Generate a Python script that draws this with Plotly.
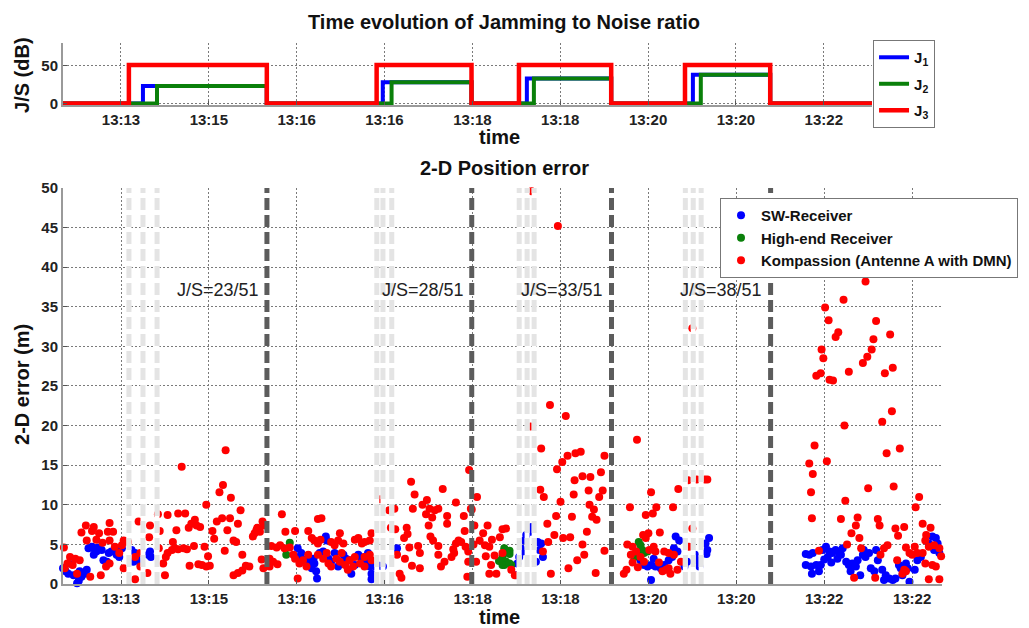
import plotly.graph_objects as go

# ---------------- data ----------------
tick_labels = ["13:13", "13:15", "13:16", "13:16", "13:18", "13:18", "13:20", "13:20", "13:22", "13:22"]
tick_pos = [0, 1, 2, 3, 4, 5, 6, 7, 8, 9]

t_start = -0.66
t_end_top = 8.55
t_end_bottom = 9.34

j3_on = [0.09, 2.91, 4.53, 6.42]
j1_on = [0.25, 2.98, 4.62, 6.51]
j2_on = [0.41, 3.08, 4.70, 6.60]
jam_off = [1.66, 3.99, 5.58, 7.39]
js_levels = [23, 28, 33, 38]
j3_level = 51

sw_t = [-0.66, -0.63, -0.60, -0.54, -0.50, -0.48, -0.45, -0.41, -0.39, -0.47, -0.56, -0.37, -0.33, -0.30, -0.26,
        -0.22, -0.31, -0.28, -0.20, -0.16, -0.14, -0.11, -0.07, -0.05, -0.02, 0.01, 0.12, 0.16, 0.18, 0.14, 0.22,
        0.31, 0.33, 0.34,
        2.01, 2.05, 2.03, 2.08, 2.33, 2.34, 2.15, 2.19, 2.20, 2.17, 2.13, 2.22, 2.23, 2.26, 2.30, 2.32, 2.36, 2.39,
        2.43, 2.47, 2.51, 2.53, 2.56, 2.60, 2.62, 2.66, 2.70, 2.74, 2.77, 2.79, 2.81, 2.83, 2.85, 2.85, 2.89, 2.94,
        2.98, 3.14, 3.13,
        4.55, 4.57, 4.53, 4.67, 4.66, 4.61, 4.59, 4.74, 4.78, 4.76, 4.80, 4.72, 4.51, 4.50,
        6.31, 6.35, 6.29, 6.33, 6.27, 6.23, 6.18, 6.06, 6.03, 5.99, 6.08, 6.14, 5.91, 5.95, 6.03, 6.44, 6.41, 6.53,
        6.55, 6.58, 6.65, 6.69, 6.67, 6.63, 6.66,
        7.79, 7.83, 7.87, 7.79, 7.85, 7.91, 7.96, 7.86, 7.94, 7.98, 8.02, 8.06, 8.09, 8.04, 8.00, 8.08, 8.13, 8.17,
        8.21, 8.15, 8.19, 8.25, 8.28, 8.32, 8.30, 8.36, 8.38, 8.44, 8.47, 8.51, 8.45, 8.41, 8.53, 8.57, 8.59, 8.61,
        8.66, 8.70, 8.74, 8.78, 8.81, 8.68, 8.85, 8.87, 8.89, 8.93, 8.95, 8.97, 9.03, 9.06, 9.10, 9.19, 9.23, 9.27,
        9.29, 9.25, 9.31]
sw_y = [2.0, 1.6, 1.3, 1.1, 0.1, 0.4, 0.9, 1.3, 1.8, 1.6, 2.5, 4.5, 4.7, 4.4, 4.6,
        4.3, 3.7, 4.1, 3.0, 2.8, 3.9, 4.1, 4.3, 3.7, 3.4, 4.5, 4.3, 3.9, 3.2, 2.8, 2.6,
        3.7, 4.1, 3.4,
        4.5, 3.9, 3.4, 3.1, 6.0, 5.5, 3.0, 3.2, 2.6, 2.0, 2.4, 1.6, 0.7, 3.9, 4.1, 3.7, 3.2, 2.8,
        3.9, 2.2, 2.6, 3.7, 3.2, 3.0, 1.3, 2.4, 3.7, 3.2, 3.4, 2.8, 3.9, 2.2, 1.3, 0.6, 2.2, 2.3,
        2.2, 4.5, 3.9,
        4.5, 4.1, 3.4, 7.2, 6.6, 6.2, 5.5, 5.3, 5.1, 4.3, 3.4, 2.8, 2.6, 1.1,
        6.0, 5.5, 4.5, 4.1, 3.4, 3.0, 2.4, 3.2, 2.4, 2.2, 2.2, 2.0, 3.0, 2.4, 0.5, 2.8, 2.2, 3.7,
        3.0, 2.2, 5.1, 5.8, 4.3, 3.9, 3.8,
        3.8, 3.7, 3.9, 2.4, 2.2, 2.4, 2.4, 1.3, 1.6, 4.3, 4.7, 4.1, 3.9, 3.4, 3.1, 2.7, 4.3, 3.9,
        4.5, 3.2, 3.7, 2.8, 2.4, 2.6, 1.6, 2.2, 3.0, 3.7, 3.4, 3.9, 4.3, 1.1, 2.0, 1.6, 4.3, 3.0,
        1.8, 1.1, 0.7, 0.5, 0.7, 0.5, 2.4, 2.0, 1.1, 2.6, 2.0, 0.3, 1.8, 3.0, 3.4, 5.1, 6.0, 5.8,
        5.1, 4.3, 3.9]

he_t = [1.88, 1.92,
        4.34, 4.38, 4.40, 4.44, 4.42, 4.36, 4.36, 4.42, 4.34, 4.42, 4.30,
        5.89, 5.91, 5.93, 5.87, 5.84, 5.95, 5.99]
he_y = [3.7, 5.2,
        3.4, 2.8, 4.0, 2.4, 4.2, 2.4, 4.5, 3.8, 2.4, 2.6, 2.9,
        5.3, 4.9, 4.3, 3.7, 3.4, 3.9, 4.1]

km_t = [1.19, 0.69, 1.16, 1.12, 1.25, 0.97, 1.36, 0.42, 0.53, 0.65, 0.73, 0.20, 0.33, 0.84, 0.80, 0.86, 0.77,
        0.90, 0.44, 0.63, 1.09, 1.15, 1.24, 1.33, 1.04, 1.21, 1.06, 1.18, 1.28, 1.31, 1.38, 1.50, 1.52, 1.54,
        1.55, 1.58, 1.61, 1.62, 0.83, 0.95, 0.59, 0.58, 0.61, 0.65, 0.71, 0.75, 0.53, 0.51, 0.43, 0.48, 0.78,
        0.88, 0.92, 0.97, 1.01, 0.99, 1.28, 1.33, 1.38, 1.42, 1.46, 1.60, 1.62, 0.50, 0.16, 0.30, 0.22, 0.32,
        0.08, 0.03, 0.22, -0.65, -0.40, -0.31, -0.33, -0.45, -0.25, -0.13, -0.15, -0.09, -0.39, -0.28, -0.21,
        -0.13, 0.01, -0.07, -0.02, -0.58, -0.52, -0.47, -0.61, -0.64, -0.55, -0.50, -0.35, -0.23, -0.17, -0.13,
        0.03, 0.16,
        3.96, 3.30, 3.66, 3.34, 3.48, 3.81, 3.43, 3.32, 3.51, 3.57, 3.61, 3.47, 3.54, 3.71, 3.90, 3.99, 3.05,
        3.11, 2.95, 3.71, 3.50, 3.25, 3.07, 3.12, 3.91, 3.26, 3.22, 3.52, 3.55, 3.61, 3.84, 3.87, 3.81, 3.78,
        3.38, 3.28, 3.40, 3.61, 3.76, 3.79, 3.92, 3.95, 3.68, 3.23, 3.17, 3.19, 3.31, 3.40, 3.64, 3.94, 3.95,
        3.14, 1.83, 2.24, 2.28, 1.98, 1.87, 2.13, 2.49, 1.71, 1.77, 1.81, 1.86, 1.92, 2.17, 2.20, 2.24, 2.27,
        2.39, 2.43, 2.47, 2.53, 2.66, 2.70, 2.74, 2.77, 2.83, 2.85, 1.69, 1.73, 1.69, 1.78, 1.96, 1.98, 2.03,
        2.07, 2.11, 2.13, 2.24, 2.30, 2.34, 2.36, 2.39, 2.45, 2.49, 2.51, 2.55, 2.58, 2.60, 2.64, 2.66, 2.72,
        2.77, 2.77, 2.83, 2.85, 2.01,
        4.67, 4.97, 4.66, 4.88, 5.06, 4.78, 5.02, 5.08, 5.17, 5.23, 5.50, 4.96, 5.16, 5.25, 5.34, 5.46, 4.77,
        4.81, 5.15, 5.32, 5.48, 5.44, 5.00, 5.33, 5.38, 5.36, 5.41, 4.95, 5.13, 4.85, 5.30, 4.93, 5.03, 5.11,
        5.25, 5.50, 5.27, 5.19, 5.09, 4.89, 5.40, 4.05, 3.98, 4.02, 4.17, 4.12, 4.34, 4.38, 4.01, 4.08, 4.22,
        4.31, 4.14, 4.19, 4.04, 4.15, 4.25, 4.34, 4.21, 4.19, 4.27, 4.44, 4.48, 4.86, 4.80,
        6.50, 5.87, 6.45, 6.55, 6.64, 6.67, 6.03, 6.34, 5.79, 6.09, 6.28, 5.97, 6.05, 6.50, 6.13, 5.94, 6.00,
        5.97, 5.76, 5.82, 5.86, 5.80, 6.01, 6.06, 6.08, 5.82, 5.88, 5.75, 5.72, 5.91, 5.95, 6.12, 6.18, 6.23,
        6.29, 6.20, 6.16, 6.25, 6.23, 6.33, 6.37, 6.46,
        8.47, 8.22, 8.01, 8.05, 8.59, 8.16, 8.13, 8.75, 8.56, 7.97, 8.54, 7.99, 8.49, 8.44, 8.78, 7.91, 7.96,
        8.06, 8.10, 8.28, 8.69, 8.77, 8.66, 8.23, 7.89, 8.86, 8.71, 7.83, 8.03, 7.87, 7.85, 8.50, 8.79, 8.24,
        9.08, 9.04, 7.86, 8.19, 8.38, 8.61, 8.63, 8.36, 8.81, 8.91, 9.12, 9.21, 8.31, 8.40, 8.84, 9.16, 9.15,
        8.26, 8.72, 8.68, 8.93, 9.03, 7.94, 8.42, 8.64, 8.97, 9.00, 9.06, 9.12, 9.19, 9.25, 9.31, 9.33, 8.83,
        8.91, 8.89, 8.93, 9.15, 9.23, 9.27, 8.34, 8.58, 9.19, 9.31]
km_y = [16.9, 14.8, 12.5, 11.6, 10.9, 10.0, 9.3, 8.8, 8.7, 8.9, 8.9, 7.9, 7.4, 8.1, 7.6, 7.4, 7.1,
        7.2, 6.7, 6.8, 7.9, 8.3, 8.3, 7.6, 6.7, 6.8, 5.7, 4.2, 5.5, 5.3, 3.7, 6.0, 6.4, 6.8,
        7.1, 6.6, 7.9, 7.4, 4.8, 4.7, 5.3, 4.3, 4.5, 4.4, 4.5, 4.4, 3.9, 3.4, 4.5, 2.6, 2.3,
        2.5, 2.4, 2.2, 2.3, 3.5, 1.1, 1.4, 1.7, 2.3, 2.2, 3.1, 2.0, 1.1, 0.6, 1.4, 2.2, 5.9,
        5.3, 5.5, 3.9, 4.6, 7.4, 7.2, 6.7, 6.5, 6.4, 7.7, 6.6, 6.6, 5.5, 5.6, 5.2,
        5.5, 4.9, 4.7, 3.9, 3.4, 3.2, 3.0, 2.6, 2.0, 2.4, 1.3, 0.9, 1.1, 2.2, 2.6,
        2.0, 3.4,
        14.4, 12.9, 12.0, 11.3, 10.6, 10.3, 10.0, 9.5, 9.5, 9.3, 9.5, 8.8, 8.4, 8.6, 8.6, 9.4, 9.3,
        9.5, 10.7, 7.6, 7.4, 7.1, 7.1, 6.9, 6.7, 6.3, 5.8, 6.0, 5.5, 4.8, 5.5, 5.3, 5.1, 4.4,
        4.8, 4.6, 3.9, 3.7, 3.4, 3.9, 4.7, 4.1, 2.8, 3.2, 1.3, 0.8, 2.3, 2.0, 2.2, 0.9, 2.8,
        3.7, 8.8, 8.2, 8.3, 6.7, 6.6, 6.7, 6.4, 4.8, 4.6, 4.9, 4.5, 4.6, 5.8, 5.5, 5.1, 5.6,
        5.3, 4.9, 5.5, 5.1, 5.6, 5.8, 5.1, 5.3, 5.5, 6.4, 3.2, 2.8, 2.2, 2.5, 3.7, 3.2, 2.6,
        3.0, 2.2, 3.7, 3.7, 3.2, 3.9, 2.6, 2.2, 3.2, 2.8, 3.9, 2.4, 1.8, 3.0, 2.2, 3.4, 2.6,
        2.2, 3.4, 3.7, 3.0, 0.7,
        49.6, 45.2, 19.9, 22.6, 21.2, 17.1, 15.4, 16.2, 16.5, 16.7, 16.2, 14.5, 13.1, 13.6, 13.5, 14.1, 11.9,
        11.0, 11.3, 11.8, 11.8, 11.0, 10.4, 10.0, 9.4, 8.5, 8.1, 8.6, 8.5, 7.6, 6.6, 6.2, 5.8, 5.9,
        5.0, 4.2, 3.7, 3.0, 2.0, 1.3, 1.4, 11.0, 9.5, 7.4, 7.4, 6.4, 6.9, 7.0, 5.0, 5.5, 5.6,
        5.9, 4.9, 4.7, 2.8, 3.5, 3.6, 3.9, 2.4, 1.3, 1.3, 1.8, 1.1, 5.3, 4.1,
        32.3, 18.2, 13.1, 13.2, 13.2, 13.2, 11.6, 12.0, 9.7, 9.7, 9.7, 8.7, 8.9, 7.0, 6.5, 6.2, 6.4,
        5.8, 5.0, 4.7, 4.1, 3.7, 4.3, 4.7, 4.1, 2.7, 2.1, 1.8, 1.3, 3.4, 2.8, 2.7, 4.1, 3.9,
        3.7, 1.8, 1.6, 1.3, 2.0, 1.8, 2.8, 4.7,
        38.2, 35.9, 34.9, 33.3, 33.2, 31.8, 31.2, 31.5, 30.9, 29.6, 29.6, 28.5, 28.7, 27.9, 27.3, 26.3, 26.6,
        25.8, 25.7, 26.8, 26.6, 21.8, 20.5, 20.0, 17.5, 17.1, 16.5, 15.2, 15.5, 13.9, 11.6, 12.1, 12.3, 10.5,
        11.0, 9.7, 8.3, 8.2, 8.4, 8.2, 7.4, 7.4, 7.0, 7.2, 7.6, 7.1, 6.4, 5.8, 6.1, 6.2, 5.5,
        5.0, 4.9, 4.5, 4.6, 4.7, 4.2, 4.5, 3.7, 3.9, 3.7, 3.9, 3.9, 4.7, 4.9, 4.5, 3.5, 3.0,
        1.8, 1.3, 1.6, 2.6, 2.4, 2.2, 0.8, 0.8, 0.6, 0.6]

# ---------------- styles ----------------
FONT = "Liberation Sans, Arial, Helvetica, sans-serif"
BLUE = "#0000ff"
GREEN = "#0a800a"
RED = "#ff0000"


def step_series(on_times, level_list):
    xs = [t_start]
    ys = [0]
    for on, off, lv in zip(on_times, jam_off, level_list):
        xs += [on, off]
        ys += [lv, 0]
    xs.append(t_end_top)
    ys.append(0)
    return xs, ys


fig = go.Figure()

# ---- top subplot: J/S step functions ----
for name, ons, levels, col, w in [
    ("J<sub>1</sub>", j1_on, js_levels, BLUE, 4),
    ("J<sub>2</sub>", j2_on, js_levels, GREEN, 4),
    ("J<sub>3</sub>", j3_on, [j3_level] * 4, RED, 4.5),
]:
    xs, ys = step_series(ons, levels)
    fig.add_trace(go.Scatter(x=xs, y=ys, mode="lines", line=dict(color=col, width=w, shape="hv"),
                             name=name, xaxis="x", yaxis="y", legend="legend", legendgroup=name))

# ---- bottom subplot: scatter ----
for name, xs, ys, col in [
    ("SW-Receiver", sw_t, sw_y, BLUE),
    ("High-end Receiver", he_t, he_y, GREEN),
    ("Kompassion (Antenne A with DMN)", km_t, km_y, RED),
]:
    fig.add_trace(go.Scatter(x=xs, y=ys, mode="markers", marker=dict(color=col, size=8, line=dict(width=0)),
                             name=name, xaxis="x2", yaxis="y2", legend="legend2", cliponaxis=False))

# vertical jammer on/off lines (drawn on top of the points)
light_times = j3_on + j1_on + j2_on
for t in light_times:
    fig.add_trace(go.Scatter(x=[t, t], y=[0, 50], mode="lines", line=dict(color="white", width=5),
                             showlegend=False, hoverinfo="skip", xaxis="x2", yaxis="y2"))
    fig.add_trace(go.Scatter(x=[t, t], y=[0, 50], mode="lines",
                             line=dict(color="#e4e4e4", width=5, dash="12px,5px"),
                             showlegend=False, hoverinfo="skip", xaxis="x2", yaxis="y2"))
for t in jam_off:
    fig.add_trace(go.Scatter(x=[t, t], y=[0, 50], mode="lines",
                             line=dict(color="#5c5c5c", width=5, dash="12px,5px"),
                             showlegend=False, hoverinfo="skip", xaxis="x2", yaxis="y2"))

tickfont = dict(family=FONT, size=15, color="#222222", weight="bold")
axis_common = dict(showgrid=True, gridcolor="#7a7a7a", gridwidth=1, griddash="2px,2px",
                   showline=True, linecolor="#9a9a9a", linewidth=2, zeroline=False,
                   ticks="inside", ticklen=4, tickcolor="#555555", tickfont=tickfont)

fig.update_layout(
    width=1029, height=628,
    margin=dict(l=63, r=86, t=43, b=44),
    paper_bgcolor="white", plot_bgcolor="white",
    font=dict(family=FONT, color="#222222"),
    xaxis=dict(domain=[0, 0.9205], range=[t_start, t_end_top], tickvals=tick_pos[:9],
               ticktext=tick_labels[:9], anchor="y", **axis_common),
    yaxis=dict(domain=[0.8854, 1], range=[-2, 80], tickvals=[0, 50], anchor="x", **axis_common),
    xaxis2=dict(domain=[0, 1], range=[t_start, t_end_bottom], tickvals=tick_pos,
                ticktext=tick_labels, anchor="y2", **axis_common),
    yaxis2=dict(domain=[0, 0.732], range=[0, 50], dtick=5, anchor="x2", **axis_common),
    legend=dict(x=0.9205, y=1.0055, xanchor="left", yanchor="top", bgcolor="white",
                bordercolor="#777777", borderwidth=1, tracegroupgap=4,
                font=dict(family=FONT, size=15, color="#111111", weight="bold")),
    legend2=dict(x=0.7466, y=0.7135, xanchor="left", yanchor="top", bgcolor="white",
                 bordercolor="#777777", borderwidth=1,
                 font=dict(family=FONT, size=15, color="#111111", weight="bold")),
    showlegend=True,
)

ann_font = dict(family=FONT, size=20, color="#111111", weight="bold")
annotations = [
    dict(text="Time evolution of Jamming to Noise ratio", x=0.502, y=1.0388, font=ann_font),
    dict(text="2-D Position error", x=0.502, y=0.769, font=ann_font),
    dict(text="time", x=0.4966, y=0.826, font=ann_font),
    dict(text="time", x=0.4966, y=-0.061, font=ann_font),
    dict(text="J/S (dB)", x=-0.0466, y=0.941, font=ann_font, textangle=-90),
    dict(text="2-D error (m)", x=-0.0466, y=0.368, font=ann_font, textangle=-90),
]
for a in annotations:
    fig.add_annotation(xref="paper", yref="paper", showarrow=False, xanchor="center", yanchor="middle", **a)

for off, lv in zip(jam_off, js_levels):
    fig.add_annotation(xref="x2", yref="y2", x=off - 0.07, y=37.1, text=f"J/S={lv}/{j3_level}",
                       showarrow=False, xanchor="right", yanchor="middle",
                       font=dict(family=FONT, size=18, color="#222222"))

fig.write_html("out.html")
